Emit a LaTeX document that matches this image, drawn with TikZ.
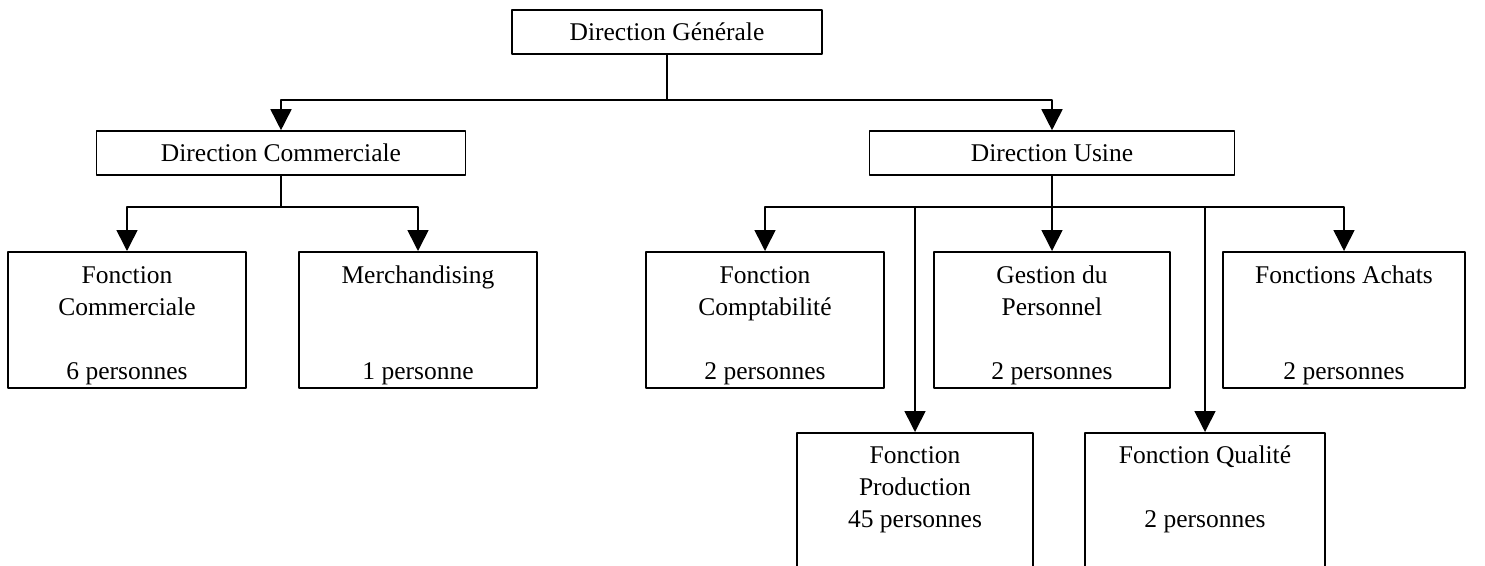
\documentclass[tikz,border=0pt]{standalone}
\usepackage{fontspec}
\setmainfont{Liberation Serif}
\usetikzlibrary{arrows.meta}
\newcommand{\topgap}{\rule{0pt}{28pt}}

\begin{document}
\begin{tikzpicture}[line cap=round,line join=round,x=1pt,y=-1pt,
    >={Triangle[length=21pt,width=21pt]},
    line width=1.6pt,
    every node/.style={font=\fontsize{25.5}{32}\selectfont},
    headbox/.style={draw,line width=1.6pt,inner sep=0pt,minimum height=44pt},
    unitbox/.style={draw,line width=1.6pt,inner sep=0pt,align=center,anchor=north,
        minimum width=238pt,minimum height=136pt},
    lowbox/.style={unitbox,minimum height=140pt}]
    \useasboundingbox (0,0) rectangle (1485,565);
    % levels of the connectors
    \coordinate (lvlA) at (0,100);
    \coordinate (lvlB) at (0,207);
    % boxes
    \node[headbox,minimum width=310pt] (dirgen) at (667,32) {Direction Générale};
    \node[headbox,minimum width=369pt] (dircom) at (281,153) {Direction Commerciale};
    \node[headbox,minimum width=365pt] (dirusi) at (1052,153) {Direction Usine};
    \node[unitbox] (foncom) at (127,251) {\topgap Fonction\\Commerciale\\~\\6 personnes};
    \node[unitbox] (merch) at (418,251) {\topgap Merchandising\\~\\~\\1 personne};
    \node[unitbox] (compta) at (765,251) {\topgap Fonction\\Comptabilité\\~\\2 personnes};
    \node[unitbox,minimum width=236pt] (gestpers) at (1052,251) {\topgap Gestion du\\Personnel\\~\\2 personnes};
    \node[unitbox,minimum width=242pt] (achats) at (1344,251) {\topgap Fonctions Achats\\~\\~\\2 personnes};
    \node[lowbox,minimum width=236pt] (prod) at (915,432) {Fonction\\Production\\45 personnes\\~};
    \node[lowbox,minimum width=240pt] (qual) at (1205,432) {Fonction Qualité\\~\\2 personnes\\~};
    % connectors
    \draw (dirgen.south) -- (dirgen.south |- lvlA);
    \draw[->] (dirgen.south |- lvlA) -| (dircom.north);
    \draw[->] (dirgen.south |- lvlA) -| (dirusi.north);
    \draw (dircom.south) -- (dircom.south |- lvlB);
    \draw[->] (dircom.south |- lvlB) -| (foncom.north);
    \draw[->] (dircom.south |- lvlB) -| (merch.north);
    \draw[->] (dirusi.south) -- (gestpers.north);
    \draw[->] (dirusi.south |- lvlB) -| (compta.north);
    \draw[->] (dirusi.south |- lvlB) -| (achats.north);
    \draw[->] (dirusi.south |- lvlB) -| (prod.north);
    \draw[->] (dirusi.south |- lvlB) -| (qual.north);
\end{tikzpicture}
\end{document}
